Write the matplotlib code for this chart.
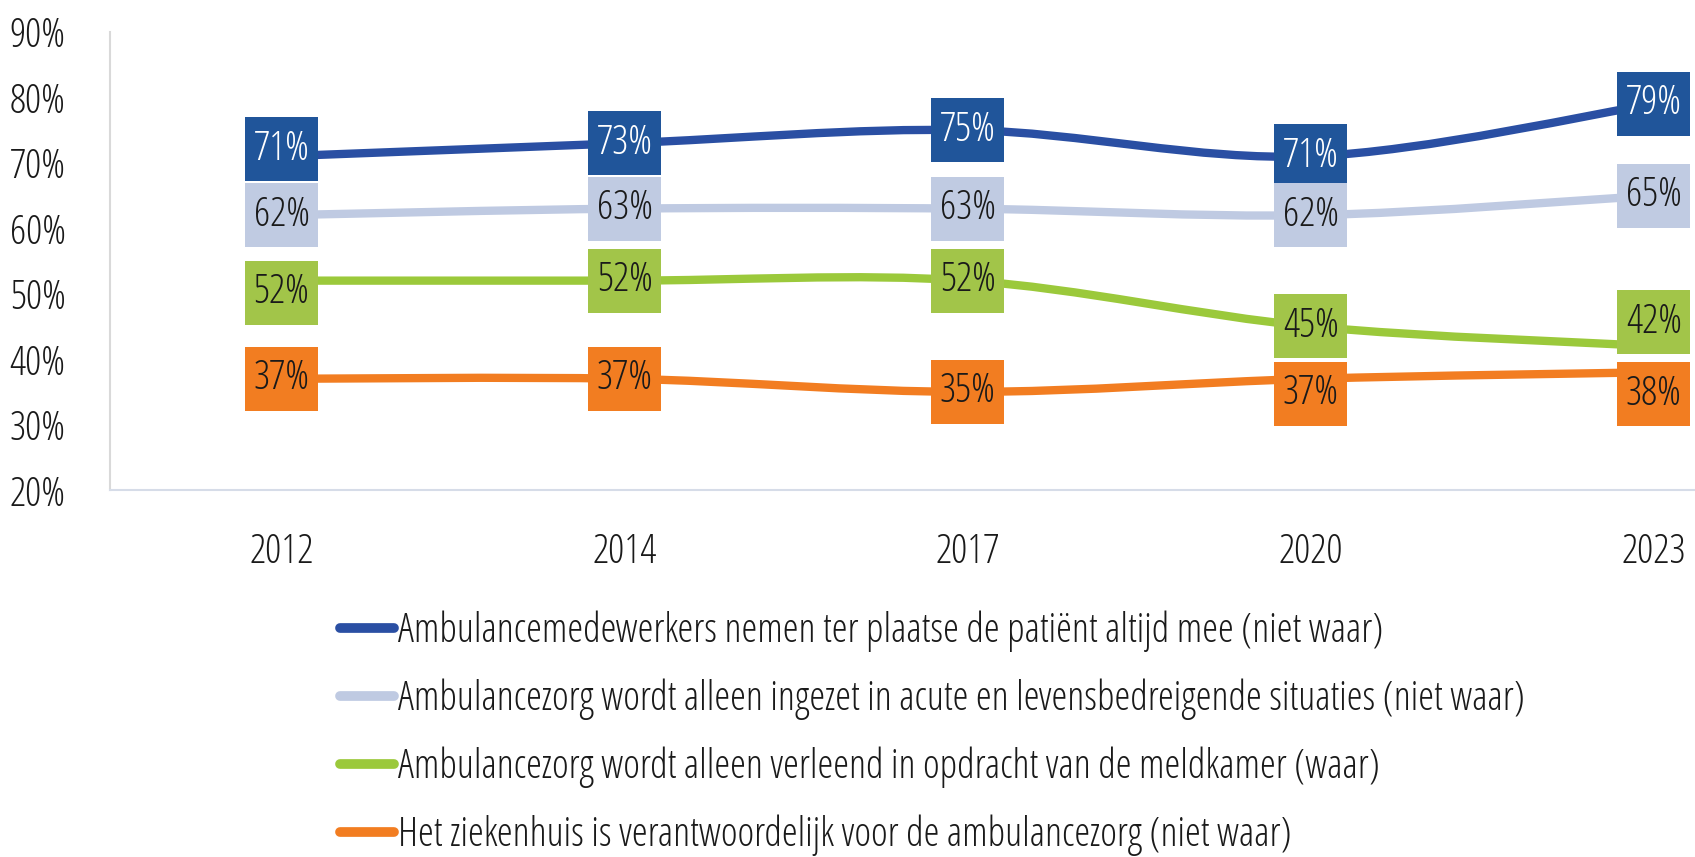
import numpy as np
import matplotlib
matplotlib.use('Agg')
import matplotlib.pyplot as plt
from matplotlib.path import Path
from matplotlib.patches import PathPatch
from matplotlib.lines import Line2D

# Open Sans Light Condensed is installed as a stretch of "Open Sans"
plt.rcParams['font.family'] = 'Open Sans'
plt.rcParams['font.weight'] = 300
plt.rcParams['font.stretch'] = 'condensed'

years = ['2012', '2014', '2017', '2020', '2023']
names = [
    'Ambulancemedewerkers nemen ter plaatse de patiënt altijd mee (niet waar)',
    'Ambulancezorg wordt alleen ingezet in acute en levensbedreigende situaties (niet waar)',
    'Ambulancezorg wordt alleen verleend in opdracht van de meldkamer (waar)',
    'Het ziekenhuis is verantwoordelijk voor de ambulancezorg (niet waar)',
]
meenemen = [71, 73, 75, 71, 79]
acuut = [62, 63, 63, 62, 65]
meldkamer = [52, 52, 52, 45, 42]
ziekenhuis = [37, 37, 35, 37, 38]
series = [meenemen, acuut, meldkamer, ziekenhuis]

line_colors = ['#2A4FA3', '#BFCAE2', '#9BC93B', '#F27D21']
box_colors = ['#20559A', '#C0CBE2', '#A2C549', '#F27D21']
text_colors = ['white', '#1a1a1a', '#1a1a1a', '#1a1a1a']
# vertical label shift in pixels (Excel moved a few labels)
shifts = [[7, 0, 0, 0, 0],
          [0, 0, 0, 0, 0],
          [-12, 0, 0, 0, 24],
          [0, 0, 0, -15, -22]]

fig = plt.figure(figsize=(16.95, 8.57), dpi=100)
ax = fig.add_axes([0.0649, 0.4282, 0.9351, 0.5345])

x = np.arange(len(years))


def smooth_path(xs, ys):
    # bezier curve like Excel's smoothed line
    pts = np.column_stack([xs, ys]).astype(float)
    verts = [pts[0]]
    codes = [Path.MOVETO]
    n = len(pts)
    for i in range(n - 1):
        p0 = pts[i - 1] if i > 0 else pts[i]
        p1 = pts[i]
        p2 = pts[i + 1]
        p3 = pts[i + 2] if i + 2 < n else pts[i + 1]
        c1 = p1 + (p2 - p0) / 6
        c2 = p2 - (p3 - p1) / 6
        verts += [c1, c2, p2]
        codes += [Path.CURVE4] * 3
    return Path(verts, codes)


def label_box(x0, y0, width, height, mutation_size):
    # fixed size box around the label, like Excel's data label shapes
    cx = x0 + width / 2
    cy = y0 + height / 2
    w = 1.81 * mutation_size / 2
    h = 1.59 * mutation_size / 2
    return Path([(cx - w, cy - h), (cx + w, cy - h), (cx + w, cy + h),
                 (cx - w, cy + h), (cx - w, cy - h)], closed=True)


for vals, lc, bc, tc, sh in zip(series, line_colors, box_colors, text_colors, shifts):
    ax.add_patch(PathPatch(smooth_path(x, vals), facecolor='none', edgecolor=lc,
                           lw=6, capstyle='round', zorder=2))
    for xi, v, s in zip(x, vals, sh):
        ax.annotate(f'{v}%', (xi, v), xytext=(0, s), textcoords='offset pixels',
                    ha='center', va='center', fontsize=29, color=tc, zorder=4,
                    bbox=dict(boxstyle=label_box, fc=bc, ec='none'))

ax.set_xlim(-0.5, 4.12)
ax.set_ylim(20, 90)
ax.set_yticks(range(20, 91, 10))
ax.set_yticklabels([f'{t}%' for t in range(20, 91, 10)])
ax.set_xticks(x)
ax.set_xticklabels(years)
ax.tick_params(axis='both', length=0, labelsize=29, colors='#1a1a1a')
ax.tick_params(axis='y', pad=32)
ax.tick_params(axis='x', pad=30)
for s in ['top', 'right']:
    ax.spines[s].set_visible(False)
ax.spines['left'].set_color('#D9D9D9')
ax.spines['bottom'].set_color('#D6DCE8')
ax.spines['left'].set_linewidth(1.5)
ax.spines['bottom'].set_linewidth(1.5)

handles = [Line2D([], [], color=c, lw=7, solid_capstyle='round') for c in line_colors]
fig.legend(handles, names, loc='upper left', bbox_to_anchor=(0.2005, 0.288),
           frameon=False, fontsize=28.8, handlelength=1.35, handletextpad=0.1,
           labelspacing=0.665, borderaxespad=0, borderpad=0, labelcolor='#1a1a1a')

fig.savefig('out.png', dpi=100)
